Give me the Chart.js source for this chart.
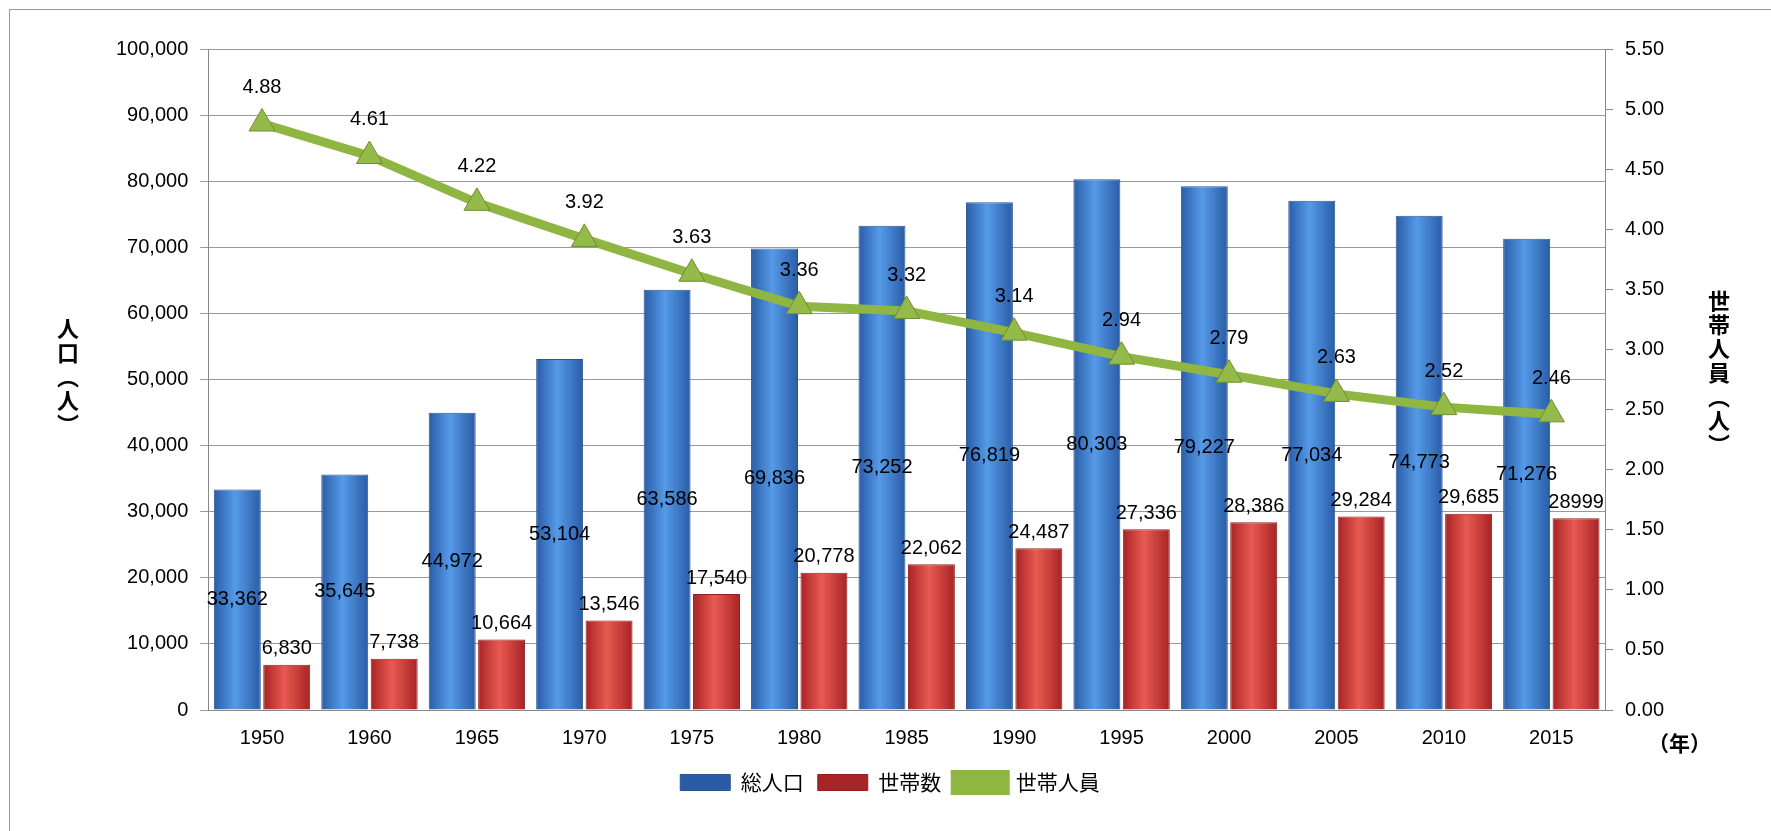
<!DOCTYPE html>
<html>
<head>
<meta charset="UTF-8">
<script src="https://cdn.jsdelivr.net/npm/chart.js@4/dist/chart.umd.min.js"></script>
<style>
  body { margin:0; background:#fff; font-family:"Noto Sans CJK JP", sans-serif; }
  #wrap { position:relative; width:1771px; height:831px; overflow:hidden; }
  #frame { position:absolute; left:9px; top:9px; width:1780px; height:840px; border:1px solid #999; }
  canvas { position:absolute; left:0; top:0; }
  .vt { position:absolute; writing-mode:vertical-rl; font-weight:bold; font-size:22px; letter-spacing:2px; }
</style>
</head>
<body>
<div id="wrap">
  <div id="frame"></div>
  <canvas id="c" width="1771" height="831"></canvas>
  <div class="vt" style="left:52px; top:318px;">人口（人）</div>
  <div class="vt" style="left:1703px; top:290px;">世帯人員（人）</div>
  <div style="position:absolute; left:1648px; top:727px; font-weight:bold; font-size:21px;">（年）</div>
</div>
<script>
const years = ["1950","1960","1965","1970","1975","1980","1985","1990","1995","2000","2005","2010","2015"];
const population = [33362,35645,44972,53104,63586,69836,73252,76819,80303,79227,77034,74773,71276];
const households = [6830,7738,10664,13546,17540,20778,22062,24487,27336,28386,29284,29685,28999];
const perHousehold = [4.88,4.61,4.22,3.92,3.63,3.36,3.32,3.14,2.94,2.79,2.63,2.52,2.46];
const popLabels = population.map(v => v.toLocaleString("en-US"));
const hhLabels = ["6,830","7,738","10,664","13,546","17,540","20,778","22,062","24,487","27,336","28,386","29,284","29,685","28999"];

const CAT = 0.92, BAR = 0.95;
function grad(ctx, side, c1, c2) {
  const chart = ctx.chart, a = chart.chartArea;
  if (!a || ctx.dataIndex === undefined || !chart.scales.x) return c2;
  const cw = a.width / years.length;
  const bw = cw * CAT * BAR / 2;
  const cx = chart.scales.x.getPixelForValue(ctx.dataIndex) + side * cw * CAT / 4;
  if (!isFinite(cx)) return c2;
  const g = chart.ctx.createLinearGradient(cx - bw/2, 0, cx + bw/2, 0);
  g.addColorStop(0, c1); g.addColorStop(0.45, c2); g.addColorStop(1, c1);
  return g;
}

const labelPlugin = {
  id: "labels",
  afterDatasetsDraw(chart) {
    const ctx = chart.ctx;
    ctx.save();
    ctx.font = "20px 'Liberation Sans', Arial, sans-serif";
    ctx.fillStyle = "#000";
    ctx.textAlign = "center";
    ctx.textBaseline = "middle";
    chart.getDatasetMeta(1).data.forEach((b, i) => ctx.fillText(popLabels[i], b.x, (b.y + b.base) / 2));
    chart.getDatasetMeta(2).data.forEach((b, i) => ctx.fillText(hhLabels[i], b.x, b.y - 16));
    chart.getDatasetMeta(0).data.forEach((p, i) => ctx.fillText(perHousehold[i].toFixed(2), p.x, p.y - 36));
    ctx.restore();
  }
};

new Chart(document.getElementById("c"), {
  data: {
    labels: years,
    datasets: [
      { type: "line", label: "世帯人員", data: perHousehold, yAxisID: "y2", order: 0,
        borderColor: "#8fb543", borderWidth: 9, backgroundColor: "#8fb543",
        pointStyle: "triangle", pointRadius: 15, pointBackgroundColor: "#94bb49",
        pointBorderColor: "#6d8f2e", pointBorderWidth: 1 },
      { type: "bar", label: "総人口", data: population, yAxisID: "y", order: 1,
        backgroundColor: c => grad(c, -1, "#2a5ca6", "#559ae8"), borderColor: "#2a5592", borderWidth: 1 },
      { type: "bar", label: "世帯数", data: households, yAxisID: "y", order: 1,
        backgroundColor: c => grad(c, 1, "#a82325", "#e85a52"), borderColor: "#8e2020", borderWidth: 1 }
    ]
  },
  options: {
    responsive: false,
    animation: false,
    layout: { padding: { left: 104, right: 95, top: 49, bottom: 28 } },
    datasets: { bar: { categoryPercentage: CAT, barPercentage: BAR } },
    plugins: {
      tooltip: { enabled: false },
      legend: {
        position: "bottom",
        labels: {
          font: { size: 21, family: "'Noto Sans CJK JP'" }, color: "#000",
          boxWidth: 50, boxHeight: 16, padding: 14,
          sort: (a, b) => (a.datasetIndex === 0 ? 1 : 0) - (b.datasetIndex === 0 ? 1 : 0)
        }
      }
    },
    scales: {
      x: { grid: { display: false }, border: { color: "#888" },
           ticks: { color: "#000", font: { size: 20 }, padding: 8 } },
      y: { min: 0, max: 100000, position: "left",
           ticks: { stepSize: 10000, color: "#000", font: { size: 20 }, padding: 12,
                    callback: v => v.toLocaleString("en-US") },
           grid: { color: "#999", drawTicks: true, tickLength: 8 }, border: { color: "#888" } },
      y2: { min: 0, max: 5.5, position: "right",
            ticks: { stepSize: 0.5, color: "#000", font: { size: 20 }, padding: 12,
                     callback: v => v.toFixed(2) },
            grid: { drawOnChartArea: false, tickLength: 8, color: "#888" }, border: { color: "#888" } }
    }
  },
  plugins: [labelPlugin]
});
</script>
</body>
</html>
